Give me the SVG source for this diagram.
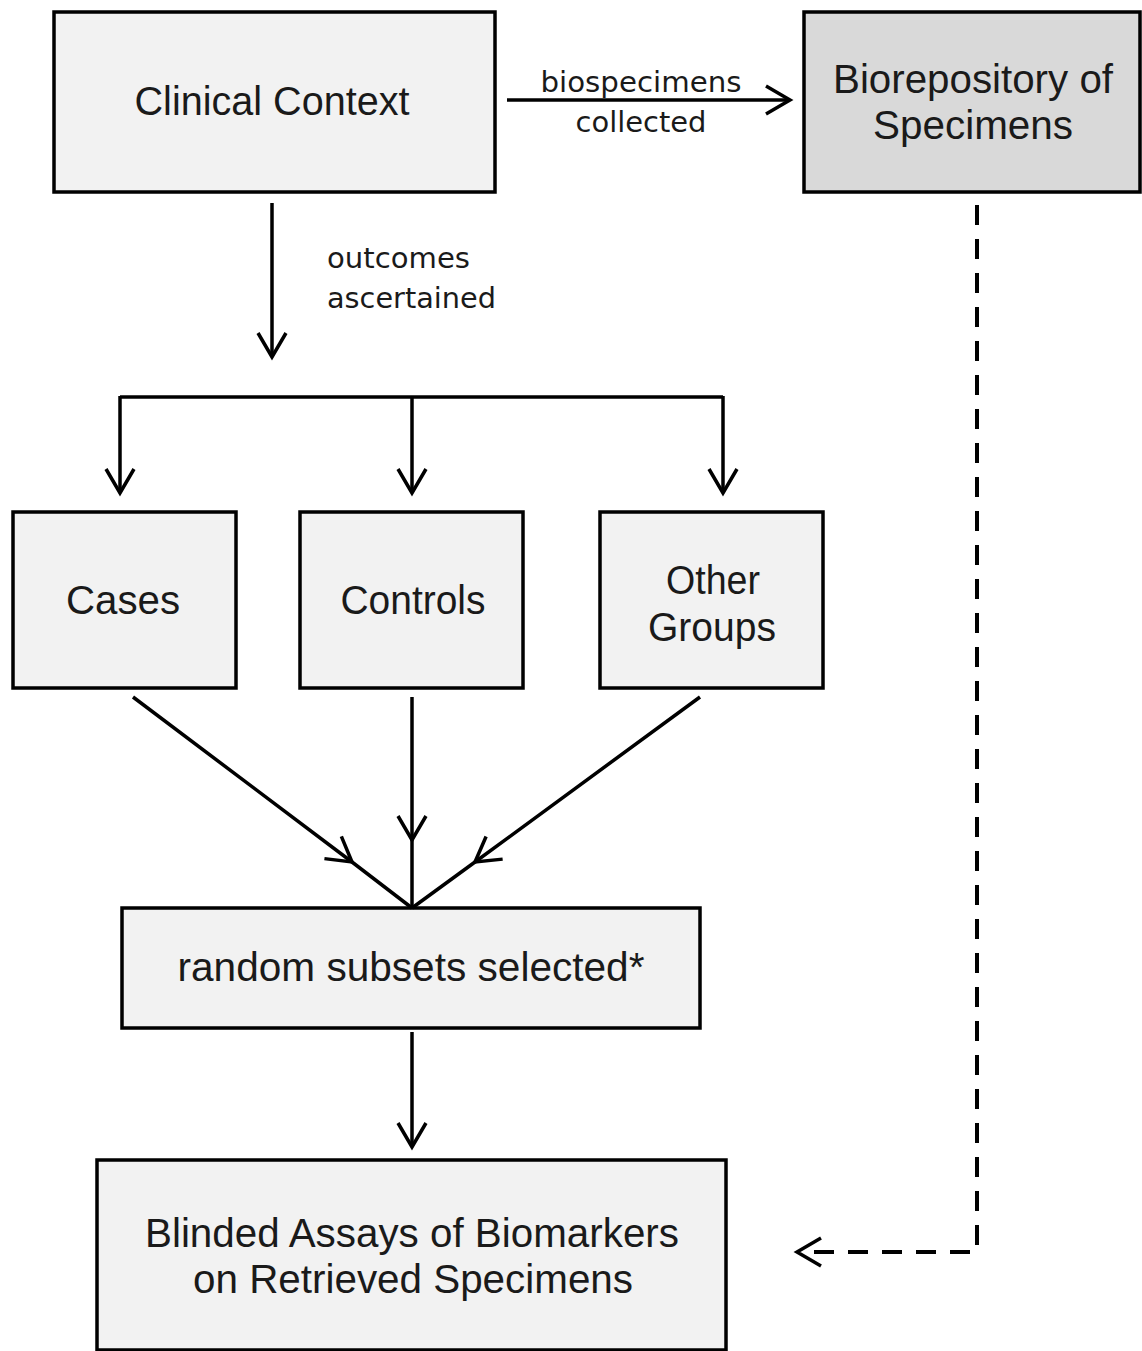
<svg xmlns="http://www.w3.org/2000/svg" width="1142" height="1351" viewBox="0 0 1142 1351">
<style>
.box{fill:#f2f2f2;stroke:#000;stroke-width:3.5}
.dark{fill:#d9d9d9}
.t{font-family:"Liberation Sans",Arial,sans-serif;font-size:40px;fill:#1a1a1a;text-anchor:middle}
.s{font-family:"DejaVu Sans","Liberation Sans",sans-serif;font-size:29px;fill:#1a1a1a}
.ln{fill:none;stroke:#000;stroke-width:3.5}
.dash{fill:none;stroke:#000;stroke-width:4;stroke-dasharray:20 14}
</style>
<defs>
<marker id="ah" markerUnits="userSpaceOnUse" markerWidth="40" markerHeight="40" refX="30" refY="20" orient="auto" overflow="visible">
<path d="M6,6 L30,20 L6,34" fill="none" stroke="#000" stroke-width="3.5"/>
</marker>
</defs>
<rect width="1142" height="1351" fill="#fff"/>
<g id="clinical"><rect class="box" x="54" y="12" width="441" height="180"/><text class="t" x="272" y="115" textLength="275" lengthAdjust="spacingAndGlyphs">Clinical Context</text></g>
<g id="biorepository"><rect class="box dark" x="804" y="12" width="336" height="180"/><text class="t" x="973" y="93" textLength="280" lengthAdjust="spacingAndGlyphs">Biorepository of</text><text class="t" x="973" y="139" textLength="200" lengthAdjust="spacingAndGlyphs">Specimens</text></g>
<g id="cases"><rect class="box" x="13" y="512" width="223" height="176"/><text class="t" x="123" y="614" textLength="114" lengthAdjust="spacingAndGlyphs">Cases</text></g>
<g id="controls"><rect class="box" x="300" y="512" width="223" height="176"/><text class="t" x="413" y="614" textLength="145" lengthAdjust="spacingAndGlyphs">Controls</text></g>
<g id="other"><rect class="box" x="600" y="512" width="223" height="176"/><text class="t" x="713" y="594" textLength="94" lengthAdjust="spacingAndGlyphs">Other</text><text class="t" x="712" y="641" textLength="128" lengthAdjust="spacingAndGlyphs">Groups</text></g>
<g id="random"><rect class="box" x="122" y="908" width="578" height="120"/><text class="t" x="411" y="981" textLength="467" lengthAdjust="spacingAndGlyphs">random subsets selected*</text></g>
<g id="blinded"><rect class="box" x="97" y="1160" width="629" height="190"/><text class="t" x="412" y="1247" textLength="534" lengthAdjust="spacingAndGlyphs">Blinded Assays of Biomarkers</text><text class="t" x="413" y="1293" textLength="440" lengthAdjust="spacingAndGlyphs">on Retrieved Specimens</text></g>
<g id="connectors">
<line class="ln" x1="507" y1="100" x2="790" y2="100" marker-end="url(#ah)"/>
<text class="s" x="641" y="92" text-anchor="middle" textLength="201" lengthAdjust="spacingAndGlyphs">biospecimens</text>
<text class="s" x="641" y="132" text-anchor="middle" textLength="131" lengthAdjust="spacingAndGlyphs">collected</text>
<line class="ln" x1="272" y1="203" x2="272" y2="357" marker-end="url(#ah)"/>
<text class="s" x="327" y="268" textLength="143" lengthAdjust="spacingAndGlyphs">outcomes</text>
<text class="s" x="327" y="308" textLength="169" lengthAdjust="spacingAndGlyphs">ascertained</text>
<polyline class="ln" points="120,397 723,397"/>
<line class="ln" x1="120" y1="396" x2="120" y2="493" marker-end="url(#ah)"/>
<line class="ln" x1="412" y1="397" x2="412" y2="493" marker-end="url(#ah)"/>
<line class="ln" x1="723" y1="396" x2="723" y2="493" marker-end="url(#ah)"/>
<polyline class="ln" points="133,697 352,862 412,908" marker-mid="url(#ah)"/>
<polyline class="ln" points="412,697 412,840 412,908" marker-mid="url(#ah)"/>
<polyline class="ln" points="700,697 475,862 412,908" marker-mid="url(#ah)"/>
<line class="ln" x1="412" y1="1032" x2="412" y2="1147" marker-end="url(#ah)"/>
<polyline class="dash" points="977,205 977,1252 797,1252" marker-end="url(#ah)"/>
</g>
</svg>
